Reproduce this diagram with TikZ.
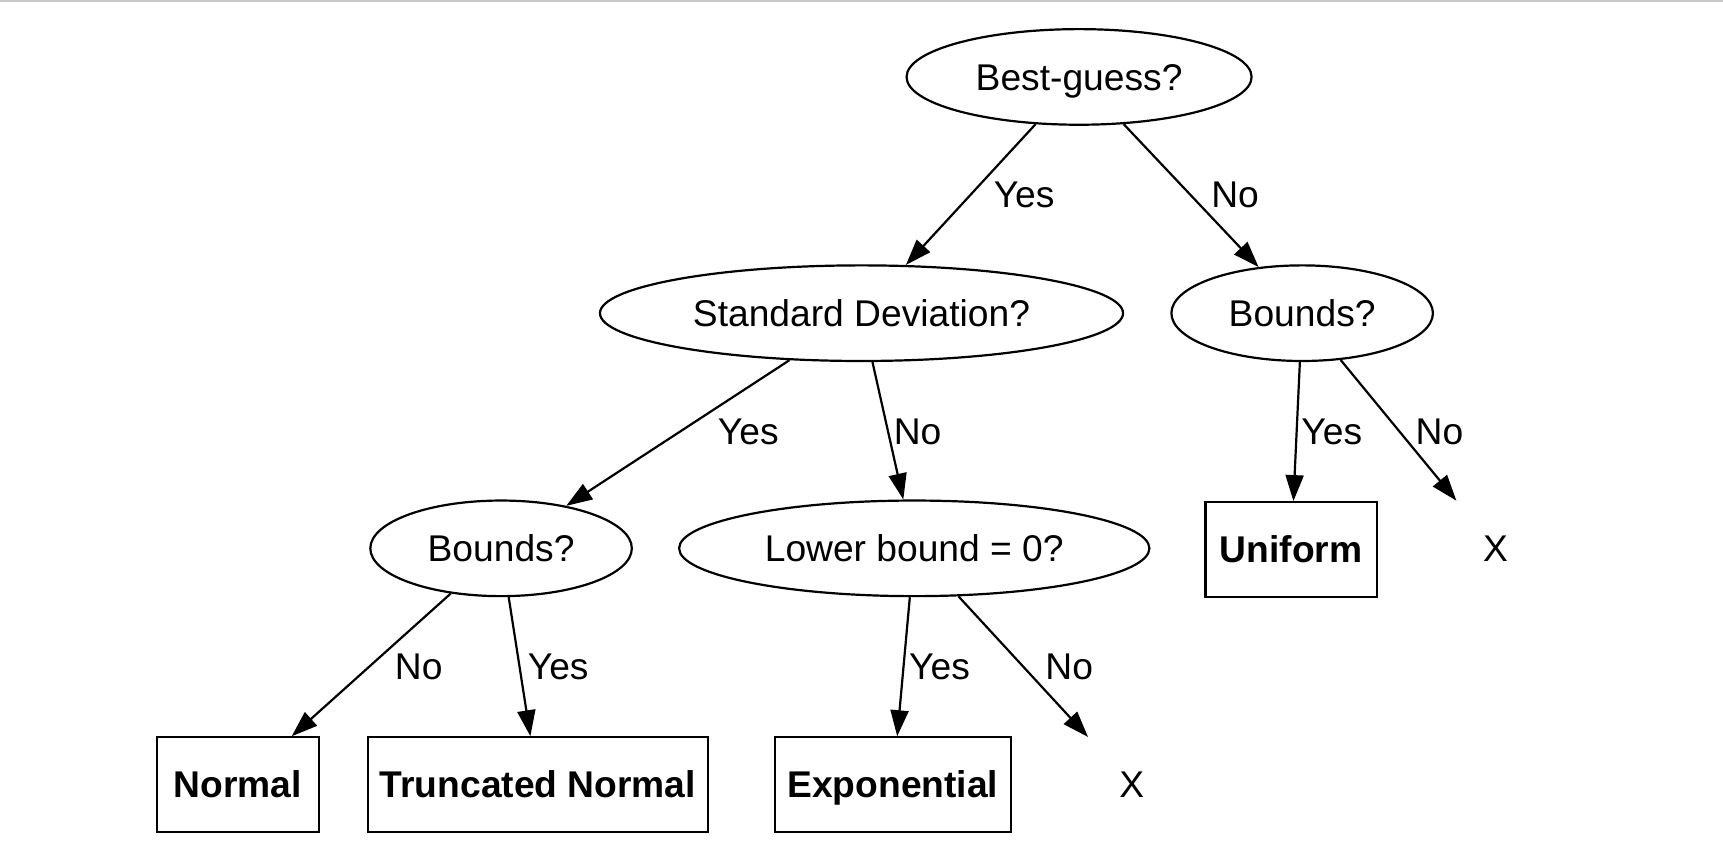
\documentclass[tikz,border=0pt]{standalone}
\usepackage{fontspec}
\setmainfont{Liberation Sans}
\usetikzlibrary{shapes.geometric,arrows.meta}
\definecolor{rulegray}{RGB}{200,200,200}
\begin{document}
\begin{tikzpicture}[x=0.54945pt,y=-0.54945pt,
  every node/.style={font=\fontsize{18.6}{21}\selectfont, inner sep=0pt, text height=13.3pt, text depth=0pt},
  qnode/.style={ellipse, draw, line width=1.1pt, minimum height=87*0.54945pt},
  leaf/.style={rectangle, draw, line width=1.1pt, minimum height=86*0.54945pt, font=\fontsize{18.6}{21}\selectfont\bfseries},
  nil/.style={rectangle, minimum width=100*0.54945pt, minimum height=86*0.54945pt},
  conn/.style={line width=1.1pt, -{Triangle[length=13pt,width=9pt]}},
  lbl/.style={}]
\useasboundingbox (0,0) rectangle (1568,782.6);
\draw[rulegray, line width=1pt] (0,1) -- (1568,1);
% question nodes
\node[qnode, minimum width=314*0.54945pt] (bg) at (982,70) {Best-guess?};
\node[qnode, minimum width=476*0.54945pt] (sd) at (784,285) {Standard Deviation?};
\node[qnode, minimum width=238*0.54945pt] (bR) at (1185,285) {Bounds?};
\node[qnode, minimum width=238*0.54945pt] (bL) at (456,499) {Bounds?};
\node[qnode, minimum width=428*0.54945pt] (lb) at (832,499) {Lower bound = 0?};
% leaves
\node[leaf, minimum width=156*0.54945pt] (un) at (1175,500) {Uniform};
\node[nil] (xR) at (1361,499) {X};
\node[leaf, minimum width=147*0.54945pt] (nm) at (216.5,714) {Normal};
\node[leaf, minimum width=309*0.54945pt] (tn) at (489.5,714) {Truncated Normal};
\node[leaf, minimum width=215*0.54945pt] (ex) at (812.5,714) {Exponential};
\node[nil] (xB) at (1030,714) {X};
% connectors
\draw[conn] (bg) -- (sd);
\draw[conn] (bg) -- (bR);
\draw[conn] (sd) -- (bL);
\draw[conn] (sd) -- (lb);
\draw[conn] (bR) -- (un);
\draw[conn] (bR) -- (xR);
\draw[conn] (bL) -- (nm);
\draw[conn] (bL) -- (tn);
\draw[conn] (lb) -- (ex);
\draw[conn] (lb) -- (xB);
% labels
\node[lbl] (l1) at (932,177) {Yes};
\node[lbl] (l2) at (1124,177) {No};
\node[lbl] (l3) at (681,392) {Yes};
\node[lbl] (l4) at (835,392) {No};
\node[lbl] (l5) at (1212,392) {Yes};
\node[lbl] (l6) at (1310,392) {No};
\node[lbl] (l7) at (381,606) {No};
\node[lbl] (l8) at (508,606) {Yes};
\node[lbl] (l9) at (855,606) {Yes};
\node[lbl] (l10) at (973,606) {No};
\end{tikzpicture}
\end{document}
